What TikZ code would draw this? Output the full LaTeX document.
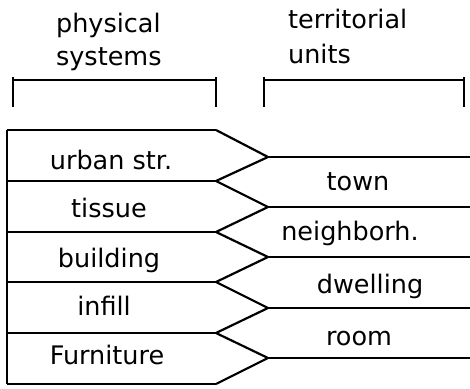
\documentclass[tikz,border=0pt]{standalone}
\usepackage{fontspec}
\setmainfont{DejaVu Sans}
\usepackage{tikz}

\begin{document}
\begin{tikzpicture}[x=1pt,y=-1pt,line width=2.2pt,
  lbl/.style={font=\fontsize{25.5}{30}\selectfont,inner sep=0pt,anchor=base}]
\useasboundingbox (0,0) rectangle (470,388);
% headers
\node[lbl,anchor=base west] (phys) at (55,32) {physical};
\node[lbl,anchor=base west] (sys) at (55,65) {systems};
\node[lbl,anchor=base west] (terr) at (287,28) {territorial};
\node[lbl,anchor=base west] (unit) at (287,63) {units};
% brackets
\draw (13,77) -- (13,107);
\draw (13,80) -- (216,80);
\draw (216,77) -- (216,107);
\draw (264,77) -- (264,107);
\draw (264,80) -- (464,80);
\draw (464,77) -- (464,107);
% left column
\draw (7,130) -- (7,384);
\draw (7,130) -- (216,130);
\draw (7,181) -- (216,181);
\draw (7,232) -- (216,232);
\draw (7,282) -- (216,282);
\draw (7,333) -- (216,333);
\draw (7,384) -- (216,384);
% zigzag
\draw[line join=miter] (216,130) -- (268,157) -- (216,181) -- (268,207)
  -- (216,232) -- (268,257) -- (216,282) -- (268,308) -- (216,333)
  -- (268,358) -- (216,384);
% right column
\draw (268,157) -- (470,157);
\draw (268,207) -- (470,207);
\draw (268,257) -- (470,257);
\draw (268,308) -- (470,308);
\draw (268,358) -- (470,358);
% labels
\node[lbl] (urban) at (111,169) {urban str.};
\node[lbl] (tissue) at (109,217) {tissue};
\node[lbl] (bldg) at (109,267) {building};
\node[lbl] (infill) at (104,315) {infill};
\node[lbl] (furn) at (107,364) {Furniture};
\node[lbl] (town) at (358,190) {town};
\node[lbl] (neigh) at (350,240) {neighborh.};
\node[lbl] (dwell) at (370,293) {dwelling};
\node[lbl] (room) at (359,345) {room};
\end{tikzpicture}
\end{document}
